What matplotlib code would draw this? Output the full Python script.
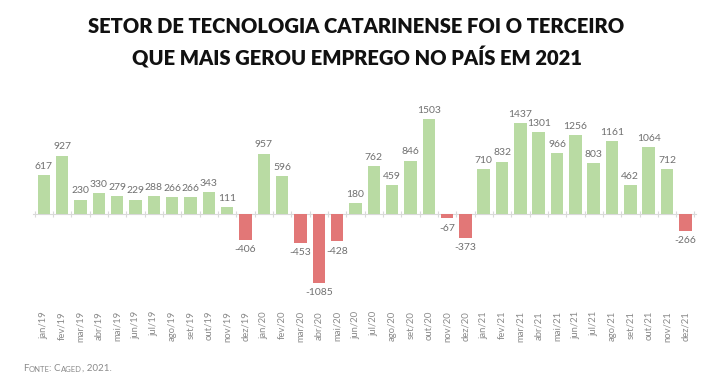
import numpy as np
import matplotlib
matplotlib.use('Agg')
import matplotlib.pyplot as plt

plt.rcParams['font.family'] = ['Lato', 'DejaVu Sans']

meses = ['jan', 'fev', 'mar', 'abr', 'mai', 'jun', 'jul', 'ago', 'set', 'out', 'nov', 'dez']
anos = ['19', '20', '21']
rotulos = [m + '/' + a for a in anos for m in meses]

saldo = [617, 927, 230, 330, 279, 229, 288, 266, 266, 343, 111, -406,
         957, 596, -453, -1085, -428, 180, 762, 459, 846, 1503, -67, -373,
         710, 832, 1437, 1301, 966, 1256, 803, 1161, 462, 1064, 712, -266]

titulo = 'SETOR DE TECNOLOGIA CATARINENSE FOI O TERCEIRO\nQUE MAIS GEROU EMPREGO NO PAÍS EM 2021'

verde = '#b9dba3'
vermelho = '#e27777'
cinza = '#707070'

fig = plt.figure(figsize=(7.13, 3.82), dpi=100)
ax = fig.add_axes([0.0461, 0.208, 0.9305, 0.521])

x = np.arange(len(saldo))
cores = [verde if v >= 0 else vermelho for v in saldo]
ax.bar(x, saldo, width=0.68, color=cores, linewidth=0)

for xi, v in zip(x, saldo):
    if v >= 0:
        ax.annotate(str(v), (xi, v), xytext=(0, 3), textcoords='offset points',
                    ha='center', va='bottom', fontsize=7.5, color=cinza)
    else:
        ax.annotate(str(v), (xi, v), xytext=(0, -4), textcoords='offset points',
                    ha='center', va='top', fontsize=7.5, color=cinza)

ymin, ymax = -1400, 1750
ax.set_ylim(ymin, ymax)
ax.set_xlim(-0.6, len(saldo) - 0.4)

ax.set_xticks(x)
ax.set_xticklabels(rotulos, rotation=90, fontsize=6.8, color='#8a8a8a')
ax.tick_params(axis='x', length=0, pad=6)
ax.set_yticks([])
for s in ax.spines.values():
    s.set_visible(False)

# linha do zero com tracinhos entre as barras
zero = (0 - ymin) / (ymax - ymin)
sec = ax.secondary_xaxis(zero)
sec.set_xticks(np.arange(-0.5, len(saldo), 1.0))
sec.set_xticklabels([])
sec.tick_params(axis='x', direction='inout', length=4, color='#d9d9d9', width=0.8)
sec.spines['bottom'].set_color('#d9d9d9')
sec.spines['bottom'].set_linewidth(0.8)

fig.text(0.5, 0.955, titulo, ha='center', va='top', fontsize=14.5,
         fontweight='heavy', color='#111111', linespacing=1.55)

# fonte em versalete (pedacos em tamanhos diferentes)
pecas = [('F', 7), ('ONTE', 5.5), (': C', 7), ('AGED', 5.5), (', 2021.', 7)]
prev = fig.text(0.032, 0.03, pecas[0][0], fontsize=pecas[0][1], color='#8a8a8a')
for txt, sz in pecas[1:]:
    prev = ax.annotate(txt, xy=(1, 0), xycoords=prev, va='bottom', ha='left',
                       fontsize=sz, color='#8a8a8a', annotation_clip=False)

fig.savefig('out.png', dpi=100)
